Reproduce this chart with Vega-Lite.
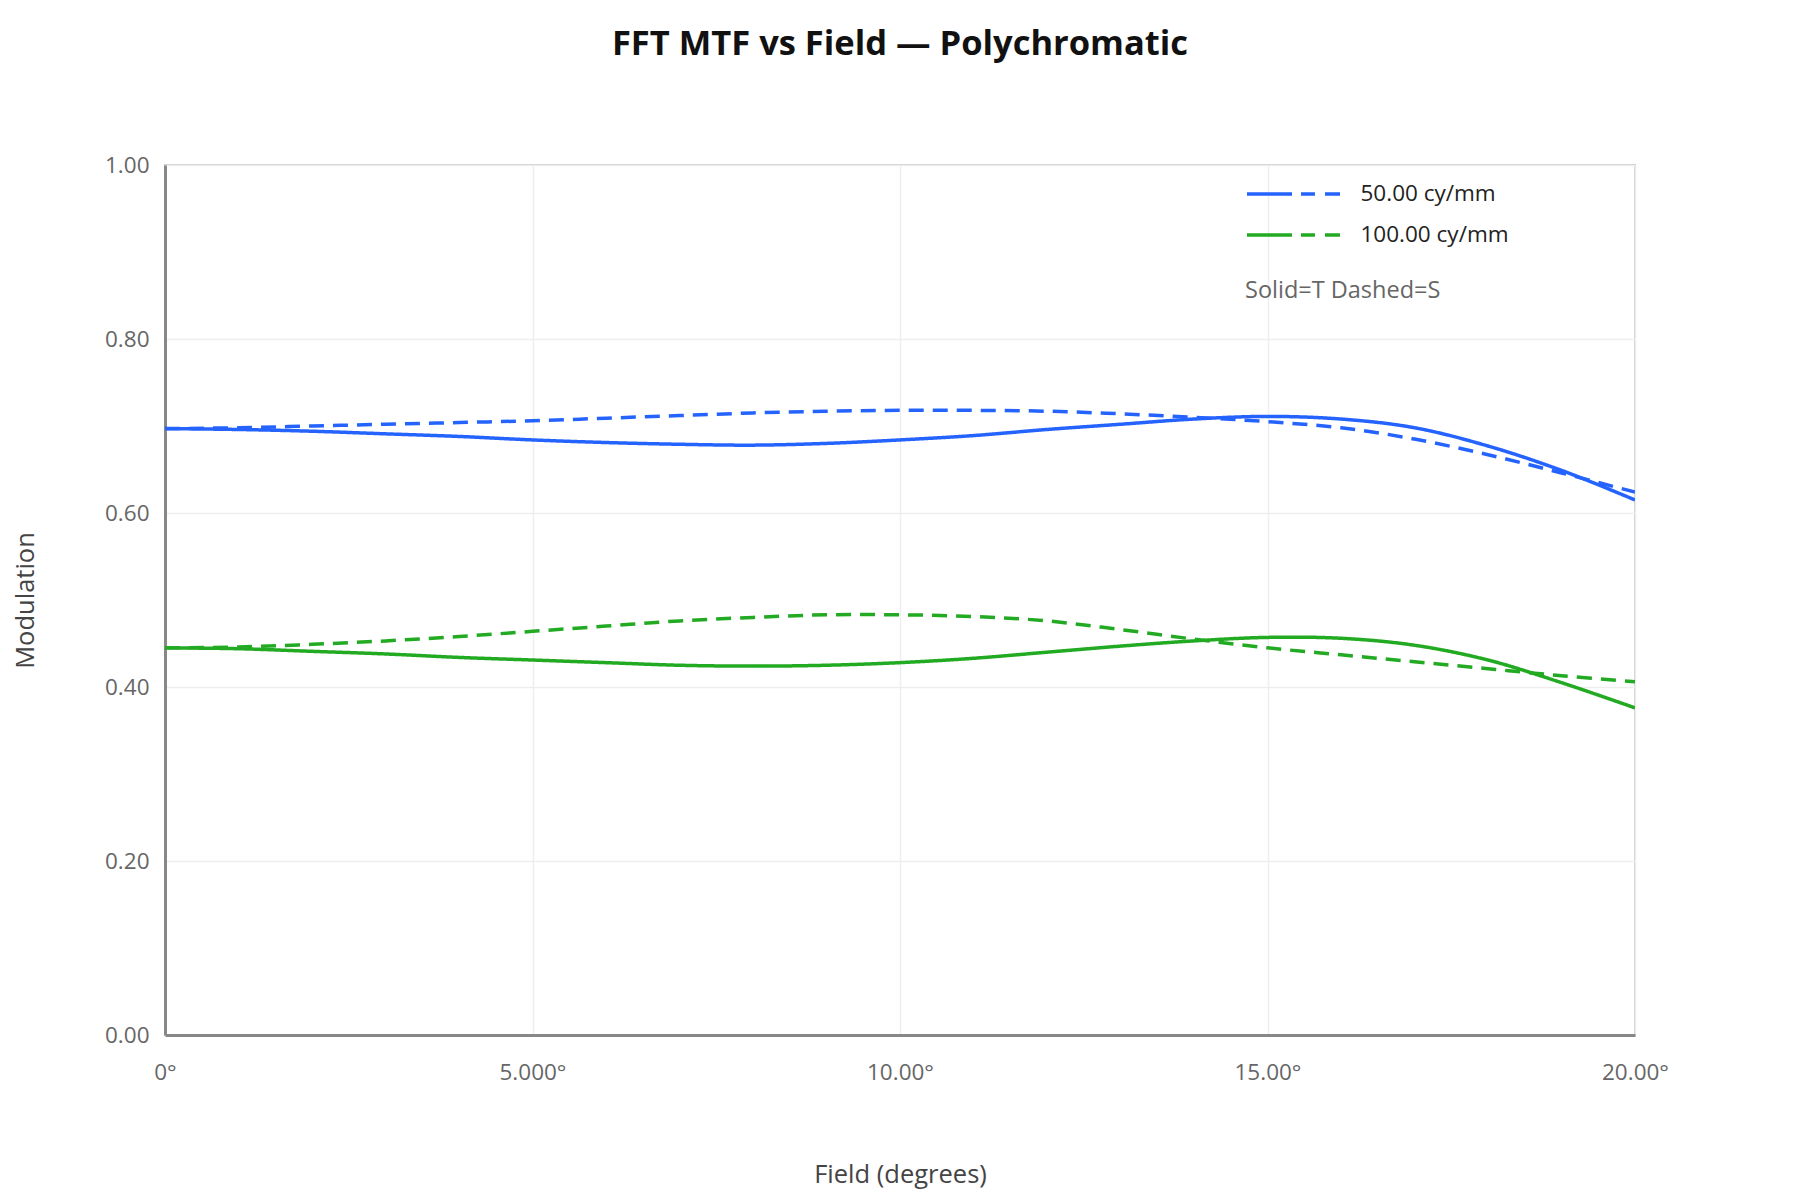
{
  "$schema": "https://vega.github.io/schema/vega-lite/v6.json",
  "autosize": "none",
  "width": 1470,
  "height": 870,
  "padding": {"left": 165, "top": 165, "right": 165, "bottom": 165},
  "background": "white",
  "title": {
    "text": "FFT MTF vs Field — Polychromatic",
    "font": "Open Sans",
    "fontSize": 34.5,
    "fontWeight": "bold",
    "color": "#111111",
    "anchor": "middle",
    "frame": "group",
    "offset": 92
  },
  "config": {
    "font": "Open Sans",
    "view": {"stroke": "#cccccc", "strokeWidth": 2},
    "axis": {
      "labelFont": "Open Sans",
      "labelFontSize": 22.5,
      "labelColor": "#666666",
      "labelFlush": false,
      "titleFont": "Open Sans",
      "titleFontSize": 25.5,
      "titleFontWeight": "normal",
      "titleColor": "#444444",
      "gridColor": "#eeeeee",
      "gridWidth": 1.5,
      "domainColor": "#888888",
      "domainWidth": 3,
      "ticks": false
    }
  },
  "data": {
    "values": [
      {"field": 0, "freq": "50.00 cy/mm", "orient": "T", "mtf": 0.697},
      {"field": 1, "freq": "50.00 cy/mm", "orient": "T", "mtf": 0.696},
      {"field": 2, "freq": "50.00 cy/mm", "orient": "T", "mtf": 0.694},
      {"field": 3, "freq": "50.00 cy/mm", "orient": "T", "mtf": 0.691},
      {"field": 4, "freq": "50.00 cy/mm", "orient": "T", "mtf": 0.688},
      {"field": 5, "freq": "50.00 cy/mm", "orient": "T", "mtf": 0.684},
      {"field": 6, "freq": "50.00 cy/mm", "orient": "T", "mtf": 0.681},
      {"field": 7, "freq": "50.00 cy/mm", "orient": "T", "mtf": 0.679},
      {"field": 8, "freq": "50.00 cy/mm", "orient": "T", "mtf": 0.678},
      {"field": 9, "freq": "50.00 cy/mm", "orient": "T", "mtf": 0.680},
      {"field": 10, "freq": "50.00 cy/mm", "orient": "T", "mtf": 0.684},
      {"field": 11, "freq": "50.00 cy/mm", "orient": "T", "mtf": 0.689},
      {"field": 12, "freq": "50.00 cy/mm", "orient": "T", "mtf": 0.696},
      {"field": 13, "freq": "50.00 cy/mm", "orient": "T", "mtf": 0.702},
      {"field": 14, "freq": "50.00 cy/mm", "orient": "T", "mtf": 0.708},
      {"field": 15, "freq": "50.00 cy/mm", "orient": "T", "mtf": 0.711},
      {"field": 16, "freq": "50.00 cy/mm", "orient": "T", "mtf": 0.708},
      {"field": 17, "freq": "50.00 cy/mm", "orient": "T", "mtf": 0.698},
      {"field": 18, "freq": "50.00 cy/mm", "orient": "T", "mtf": 0.677},
      {"field": 19, "freq": "50.00 cy/mm", "orient": "T", "mtf": 0.649},
      {"field": 20, "freq": "50.00 cy/mm", "orient": "T", "mtf": 0.615},
      {"field": 0, "freq": "50.00 cy/mm", "orient": "S", "mtf": 0.697},
      {"field": 1, "freq": "50.00 cy/mm", "orient": "S", "mtf": 0.698},
      {"field": 2, "freq": "50.00 cy/mm", "orient": "S", "mtf": 0.700},
      {"field": 3, "freq": "50.00 cy/mm", "orient": "S", "mtf": 0.702},
      {"field": 4, "freq": "50.00 cy/mm", "orient": "S", "mtf": 0.704},
      {"field": 5, "freq": "50.00 cy/mm", "orient": "S", "mtf": 0.706},
      {"field": 6, "freq": "50.00 cy/mm", "orient": "S", "mtf": 0.709},
      {"field": 7, "freq": "50.00 cy/mm", "orient": "S", "mtf": 0.712},
      {"field": 8, "freq": "50.00 cy/mm", "orient": "S", "mtf": 0.715},
      {"field": 9, "freq": "50.00 cy/mm", "orient": "S", "mtf": 0.717},
      {"field": 10, "freq": "50.00 cy/mm", "orient": "S", "mtf": 0.718},
      {"field": 11, "freq": "50.00 cy/mm", "orient": "S", "mtf": 0.718},
      {"field": 12, "freq": "50.00 cy/mm", "orient": "S", "mtf": 0.717},
      {"field": 13, "freq": "50.00 cy/mm", "orient": "S", "mtf": 0.714},
      {"field": 14, "freq": "50.00 cy/mm", "orient": "S", "mtf": 0.710},
      {"field": 15, "freq": "50.00 cy/mm", "orient": "S", "mtf": 0.705},
      {"field": 16, "freq": "50.00 cy/mm", "orient": "S", "mtf": 0.698},
      {"field": 17, "freq": "50.00 cy/mm", "orient": "S", "mtf": 0.685},
      {"field": 18, "freq": "50.00 cy/mm", "orient": "S", "mtf": 0.667},
      {"field": 19, "freq": "50.00 cy/mm", "orient": "S", "mtf": 0.646},
      {"field": 20, "freq": "50.00 cy/mm", "orient": "S", "mtf": 0.624},
      {"field": 0, "freq": "100.00 cy/mm", "orient": "T", "mtf": 0.445},
      {"field": 1, "freq": "100.00 cy/mm", "orient": "T", "mtf": 0.444},
      {"field": 2, "freq": "100.00 cy/mm", "orient": "T", "mtf": 0.441},
      {"field": 3, "freq": "100.00 cy/mm", "orient": "T", "mtf": 0.438},
      {"field": 4, "freq": "100.00 cy/mm", "orient": "T", "mtf": 0.434},
      {"field": 5, "freq": "100.00 cy/mm", "orient": "T", "mtf": 0.431},
      {"field": 6, "freq": "100.00 cy/mm", "orient": "T", "mtf": 0.428},
      {"field": 7, "freq": "100.00 cy/mm", "orient": "T", "mtf": 0.425},
      {"field": 8, "freq": "100.00 cy/mm", "orient": "T", "mtf": 0.424},
      {"field": 9, "freq": "100.00 cy/mm", "orient": "T", "mtf": 0.425},
      {"field": 10, "freq": "100.00 cy/mm", "orient": "T", "mtf": 0.428},
      {"field": 11, "freq": "100.00 cy/mm", "orient": "T", "mtf": 0.433},
      {"field": 12, "freq": "100.00 cy/mm", "orient": "T", "mtf": 0.440},
      {"field": 13, "freq": "100.00 cy/mm", "orient": "T", "mtf": 0.447},
      {"field": 14, "freq": "100.00 cy/mm", "orient": "T", "mtf": 0.453},
      {"field": 15, "freq": "100.00 cy/mm", "orient": "T", "mtf": 0.457},
      {"field": 16, "freq": "100.00 cy/mm", "orient": "T", "mtf": 0.456},
      {"field": 17, "freq": "100.00 cy/mm", "orient": "T", "mtf": 0.448},
      {"field": 18, "freq": "100.00 cy/mm", "orient": "T", "mtf": 0.431},
      {"field": 19, "freq": "100.00 cy/mm", "orient": "T", "mtf": 0.405},
      {"field": 20, "freq": "100.00 cy/mm", "orient": "T", "mtf": 0.376},
      {"field": 0, "freq": "100.00 cy/mm", "orient": "S", "mtf": 0.445},
      {"field": 1, "freq": "100.00 cy/mm", "orient": "S", "mtf": 0.446},
      {"field": 2, "freq": "100.00 cy/mm", "orient": "S", "mtf": 0.449},
      {"field": 3, "freq": "100.00 cy/mm", "orient": "S", "mtf": 0.453},
      {"field": 4, "freq": "100.00 cy/mm", "orient": "S", "mtf": 0.458},
      {"field": 5, "freq": "100.00 cy/mm", "orient": "S", "mtf": 0.464},
      {"field": 6, "freq": "100.00 cy/mm", "orient": "S", "mtf": 0.470},
      {"field": 7, "freq": "100.00 cy/mm", "orient": "S", "mtf": 0.476},
      {"field": 8, "freq": "100.00 cy/mm", "orient": "S", "mtf": 0.480},
      {"field": 9, "freq": "100.00 cy/mm", "orient": "S", "mtf": 0.483},
      {"field": 10, "freq": "100.00 cy/mm", "orient": "S", "mtf": 0.483},
      {"field": 11, "freq": "100.00 cy/mm", "orient": "S", "mtf": 0.481},
      {"field": 12, "freq": "100.00 cy/mm", "orient": "S", "mtf": 0.476},
      {"field": 13, "freq": "100.00 cy/mm", "orient": "S", "mtf": 0.466},
      {"field": 14, "freq": "100.00 cy/mm", "orient": "S", "mtf": 0.455},
      {"field": 15, "freq": "100.00 cy/mm", "orient": "S", "mtf": 0.445},
      {"field": 16, "freq": "100.00 cy/mm", "orient": "S", "mtf": 0.437},
      {"field": 17, "freq": "100.00 cy/mm", "orient": "S", "mtf": 0.429},
      {"field": 18, "freq": "100.00 cy/mm", "orient": "S", "mtf": 0.421},
      {"field": 19, "freq": "100.00 cy/mm", "orient": "S", "mtf": 0.413},
      {"field": 20, "freq": "100.00 cy/mm", "orient": "S", "mtf": 0.406}
    ]
  },
  "mark": {"type": "line", "strokeWidth": 3.5, "interpolate": "catmull-rom", "clip": true},
  "encoding": {
    "x": {
      "field": "field",
      "type": "quantitative",
      "title": "Field (degrees)",
      "scale": {"domain": [0, 20], "nice": false},
      "axis": {
        "values": [0, 5, 10, 15, 20],
        "labelExpr": "datum.value == 0 ? '0°' : format(datum.value, '.4r') + '°'",
        "labelPadding": 26,
        "titlePadding": 79
      }
    },
    "y": {
      "field": "mtf",
      "type": "quantitative",
      "title": "Modulation",
      "scale": {"domain": [0, 1], "nice": false},
      "axis": {
        "values": [0, 0.2, 0.4, 0.6, 0.8, 1],
        "format": ".2f",
        "labelPadding": 16,
        "titlePadding": 66
      }
    },
    "color": {
      "field": "freq",
      "type": "nominal",
      "scale": {"domain": ["50.00 cy/mm", "100.00 cy/mm"], "range": ["#2563ff", "#22aa22"]},
      "legend": {
        "title": "Solid=T Dashed=S",
        "titleOrient": "bottom",
        "titleFont": "Open Sans",
        "titleFontSize": 23.5,
        "titleFontWeight": "normal",
        "titleColor": "#666666",
        "titleLimit": 500,
        "titlePadding": 32,
        "orient": "none",
        "legendX": 1080,
        "legendY": 12,
        "padding": 0,
        "symbolType": "M-1,0L2,0M2.6,0L3.53,0M4.2,0L5.2,0",
        "symbolSize": 900,
        "symbolStrokeWidth": 3.5,
        "symbolFillColor": "transparent",
        "labelFont": "Open Sans",
        "labelFontSize": 22.5,
        "labelColor": "#222222",
        "labelLimit": 400,
        "labelOffset": 81.5,
        "rowPadding": 12
      }
    },
    "strokeDash": {
      "field": "orient",
      "type": "nominal",
      "scale": {"domain": ["T", "S"], "range": [[1, 0], [15, 9]]},
      "legend": null
    }
  }
}
